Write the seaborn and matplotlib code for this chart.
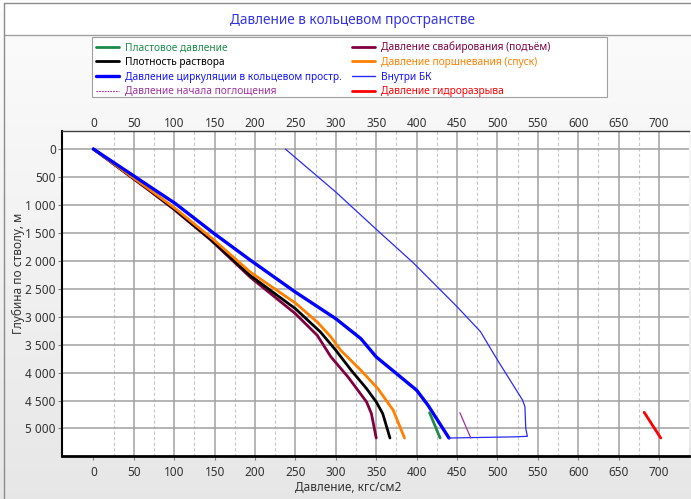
import numpy as np
import pandas as pd
import matplotlib
matplotlib.use("Agg")
import matplotlib.pyplot as plt
from matplotlib.lines import Line2D
from matplotlib.patches import Rectangle
from matplotlib.ticker import FuncFormatter
import seaborn as sns

# ---------------- data (pressure kgf/cm2 vs measured depth m) ----------------
circ_p = [0, 70, 101, 149, 194, 250, 300, 331, 350, 400, 414, 440]
circ_d = [0, 674, 971, 1508, 1986, 2560, 3036, 3393, 3720, 4315, 4583, 5170]

surge_p = [0, 70, 101, 149, 194, 250, 277, 294, 306, 331, 352, 371, 385]
surge_d = [0, 730, 1060, 1625, 2200, 2756, 3095, 3363, 3601, 3958, 4286, 4672, 5170]

mud_p = [0, 69, 99, 146, 194, 250, 281, 300, 319, 338, 350, 358, 367]
mud_d = [0, 730, 1060, 1625, 2262, 2857, 3274, 3601, 3958, 4286, 4524, 4732, 5170]

swab_p = [0, 68, 98, 145, 194, 250, 277, 294, 315, 338, 344, 350]
swab_d = [0, 730, 1060, 1625, 2292, 2946, 3333, 3720, 4077, 4524, 4732, 5170]

inside_p = [237.5, 299.5, 351, 396.5, 450, 479, 500, 531, 534, 535, 537, 520, 440]
inside_d = [0, 764, 1449, 2045, 2821, 3268, 3775, 4490, 4610, 4997, 5140, 5150, 5170]

form_p = [416, 429]
form_d = [4717, 5170]

loss_p = [453.5, 467]
loss_d = [4717, 5170]

frac_p = [681.5, 702]
frac_d = [4710, 5170]

x_ticks = list(range(0, 701, 50))
y_ticks = list(range(0, 5001, 500))

labels = ["Пластовое давление", "Плотность раствора",
          "Давление циркуляции в кольцевом простр.", "Давление начала поглощения",
          "Давление свабирования (подъём)", "Давление поршневания (спуск)",
          "Внутри БК", "Давление гидроразрыва"]

# ---------------- style ----------------
sns.set_theme(style="white")
plt.rcParams["font.family"] = ["Noto Sans", "DejaVu Sans"]

W, H = 691, 499
fig = plt.figure(figsize=(W / 100, H / 100), dpi=100)

# background gradient
bg = fig.add_axes([0, 0, 1, 1], zorder=-10)
grad = np.linspace(0.99, 0.905, 256).reshape(-1, 1)
bg.imshow(np.dstack([grad, grad, grad]), aspect="auto", extent=[0, 1, 0, 1])
bg.set_xlim(0, 1); bg.set_ylim(0, 1)
bg.axis("off")
bg.axhline(1 - 3 / H, xmin=4 / W, xmax=1, color="#8c8c8c", lw=1)
bg.axhline(1 - 35 / H, xmin=4 / W, xmax=1, color="#a0a0a0", lw=1)
bg.axvline(4 / W, ymin=0, ymax=1 - 3 / H, color="#8c8c8c", lw=1)
bg.fill_between([4 / W, 1], 1 - 35 / H, 1 - 3 / H, color="white", zorder=0.5)
# legend box
bg.add_patch(Rectangle((92 / W, 1 - 97 / H), (607 - 92) / W, 60 / H,
                       facecolor="white", edgecolor="#a0a0a0", lw=0.8, zorder=2))

ax = fig.add_axes([62 / W, 1 - 456 / H, 627 / W, 325 / H])
ax.set_facecolor("white")
xlim = (-38.8, 737)
ylim = (5492, -322)

# grid
ax.vlines(np.arange(25, 700, 50), ylim[1], ylim[0], colors="#c8c8c8",
          linestyles=(0, (3, 2)), lw=0.8, zorder=0.5)
ax.vlines(np.arange(50, 701, 50), ylim[1], ylim[0], colors="#a0a0a0", lw=1.1, zorder=0.6)
ax.hlines(y_ticks, xlim[0], xlim[1], colors="#a0a0a0", lw=1.1, zorder=0.6)

series = [
    (swab_p, swab_d, "#800040", 2.0, "-"),
    (mud_p, mud_d, "#000000", 2.0, "-"),
    (surge_p, surge_d, "#ff8000", 2.0, "-"),
    (circ_p, circ_d, "#0000ff", 2.4, "-"),
    (inside_p, inside_d, "#2a2aff", 0.9, "-"),
    (form_p, form_d, "#1e8a4a", 2.0, "-"),
    (loss_p, loss_d, "#a030a0", 0.9, "-"),
    (frac_p, frac_d, "#ff0000", 2.0, "-"),
]
for p, d, c, lw, ls in series:
    df = pd.DataFrame({"p": p, "d": d})
    sns.lineplot(data=df, x="p", y="d", sort=False, estimator=None, color=c,
                 lw=lw, ls=ls, ax=ax, legend=False, zorder=3)

ax.set_xlim(*xlim)
ax.set_ylim(*ylim)
ax.set_xlabel("")
ax.set_ylabel("")
ax.set_xticks(x_ticks)
ax.set_yticks(y_ticks)
ax.yaxis.set_major_formatter(FuncFormatter(lambda v, _: f"{int(v):,}".replace(",", " ")))
ax.tick_params(axis="x", top=False, bottom=True, labeltop=False, labelbottom=True,
               length=3, width=0.8, color="#808080", labelsize=8.5,
               labelcolor="#333333", pad=4)
ax.tick_params(axis="y", left=True, length=3, width=0.8, color="#808080",
               labelsize=8.5, labelcolor="#333333", pad=1.5)

sec = ax.secondary_xaxis("top")
sec.set_xticks(x_ticks)
sec.tick_params(axis="x", length=0, labelsize=8.5, labelcolor="#333333", pad=1)
sec.spines["top"].set_visible(False)

ax.spines["left"].set_color("black"); ax.spines["left"].set_linewidth(1.5)
ax.spines["bottom"].set_color("black"); ax.spines["bottom"].set_linewidth(2)
ax.spines["top"].set_color("#404040"); ax.spines["top"].set_linewidth(1)
ax.spines["right"].set_visible(False)

# texts
fig.text(353 / W, 1 - 20 / H, "Давление в кольцевом пространстве", ha="center",
         va="center", fontsize=9.8, color="#3535e0")
fig.text(348 / W, 1 - 487 / H, "Давление, кгс/см2", ha="center", va="center",
         fontsize=8.5, color="#333333")
fig.text(18 / W, 1 - 273 / H, "Глубина по стволу, м", ha="center", va="center",
         rotation=90, fontsize=8.5, color="#333333")

# legend
h_cols = ["#1e8a4a", "#000000", "#0000ff", "#a030a0",
          "#800040", "#ff8000", "#2a2aff", "#ff0000"]
h_lw = [2, 2, 2.4, 0.8, 2, 2, 1.0, 2]
h_ls = ["-", "-", "-", (0, (1.5, 1)), "-", "-", "-", "-"]
txt_cols = ["#1e8a4a", "#000000", "#1515ff", "#a030a0",
            "#800040", "#ff8000", "#1515ff", "#ff0000"]
handles = [Line2D([], [], color=c, lw=w, ls=s) for c, w, s in zip(h_cols, h_lw, h_ls)]
leg = fig.legend(handles, labels, ncol=2, loc="upper left",
                 bbox_to_anchor=(92 / W, 1 - 38 / H), frameon=False, fontsize=7.3,
                 handlelength=2.3, handletextpad=0.6, labelspacing=0.36,
                 columnspacing=1.0, borderpad=0.35, borderaxespad=0)
for t, c in zip(leg.get_texts(), txt_cols):
    t.set_color(c)

fig.savefig("out.png", dpi=100)
